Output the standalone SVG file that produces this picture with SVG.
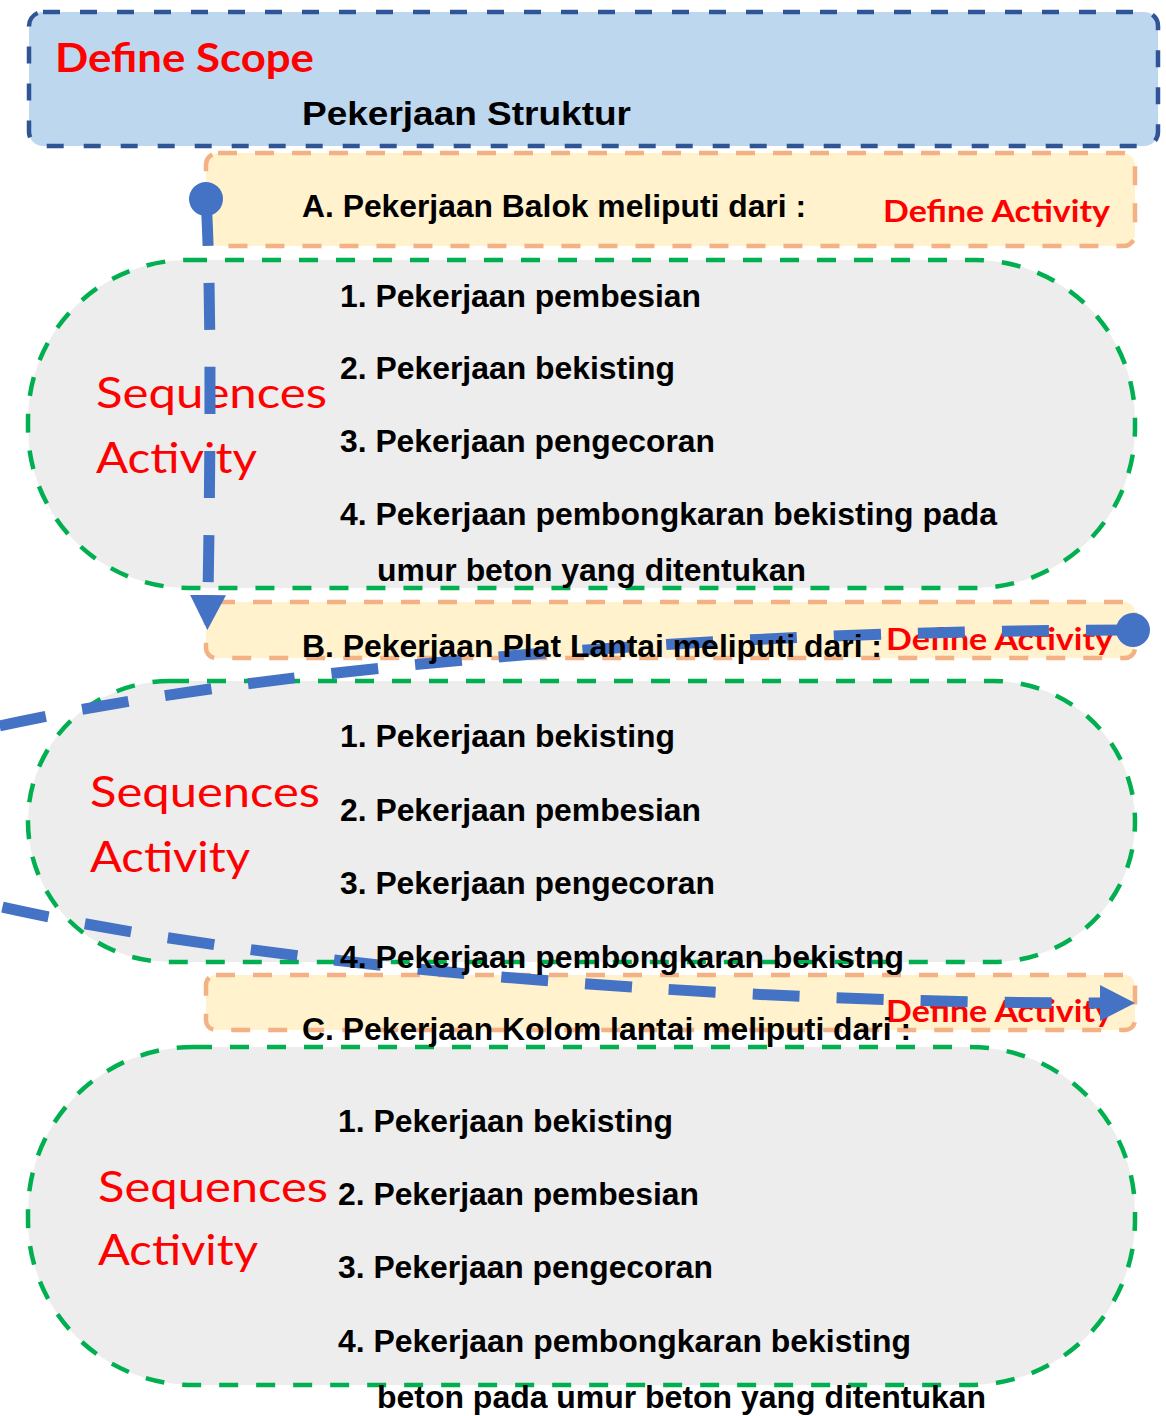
<svg xmlns="http://www.w3.org/2000/svg" width="1166" height="1416" viewBox="0 0 1166 1416">
  <defs>
    <style>
      .scope { fill: #BDD7EE; stroke: #2F5597; stroke-width: 4.5; stroke-dasharray: 17 20; }
      .act { fill: #FFF2CC; stroke: #F4B183; stroke-width: 4.5; stroke-dasharray: 19 18; }
      .seq { fill: #EDEDED; stroke: #00B050; stroke-width: 4.5; stroke-dasharray: 19 18; }
      .item { font-family: "Liberation Sans", Arial, sans-serif; font-weight: bold; font-size: 31px; fill: #000000; }
      .title { font-family: "Liberation Sans", Arial, sans-serif; font-weight: bold; font-size: 33px; fill: #000000; }
      .lbl { font-family: Lato, "Open Sans", sans-serif; fill: #FF0000; }
      .lbl-b { font-weight: bold; font-size: 31px; }
      .lbl-big { font-weight: bold; font-size: 40px; }
      .lbl-seq { font-weight: normal; font-size: 42px; }
      .flow { fill: none; stroke: #4472C4; stroke-width: 11; stroke-dasharray: 47 37; }
    </style>
    <marker id="arrow" markerUnits="userSpaceOnUse" markerWidth="36" markerHeight="36" viewBox="0 0 36 36" refX="0" refY="18" orient="auto">
      <path d="M0,0 L35,18 L0,36 Z" fill="#4472C4"/>
    </marker>
    <marker id="dot" markerUnits="userSpaceOnUse" markerWidth="36" markerHeight="36" viewBox="0 0 36 36" refX="18" refY="18" orient="auto">
      <circle cx="18" cy="18" r="17" fill="#4472C4"/>
    </marker>
  </defs>

  <rect x="0" y="0" width="1166" height="1416" fill="#FFFFFF"/>

  <!-- scope box -->
  <g id="scope">
    <rect class="scope" x="29" y="12" width="1129" height="134" rx="14"/>
    <text class="lbl lbl-big" x="55" y="72" textLength="259" lengthAdjust="spacingAndGlyphs">Define Scope</text>
    <text class="title" x="302" y="125" textLength="329" lengthAdjust="spacingAndGlyphs">Pekerjaan Struktur</text>
  </g>

  <!-- activity A: beams -->
  <g id="activity-a">
    <rect class="act" x="206" y="153" width="929" height="93" rx="12"/>
    <text class="lbl lbl-b" x="883" y="222" textLength="227" lengthAdjust="spacingAndGlyphs">Define Activity</text>
  </g>
  <g id="sequence-a">
    <rect class="seq" x="28" y="260" width="1107" height="328" rx="160" ry="160"/>
    <text class="lbl lbl-seq" x="96" y="408" textLength="231" lengthAdjust="spacingAndGlyphs">Sequences</text>
    <text class="lbl lbl-seq" x="96" y="473" textLength="161" lengthAdjust="spacingAndGlyphs">Activity</text>
  </g>

  <!-- activity B: floor slab -->
  <g id="activity-b">
    <rect class="act" x="206" y="602" width="929" height="56" rx="10"/>
    <text class="lbl lbl-b" x="886" y="650" textLength="227" lengthAdjust="spacingAndGlyphs">Define Activity</text>
  </g>
  <g id="sequence-b">
    <rect class="seq" x="28" y="681" width="1107" height="281" rx="142" ry="140"/>
    <text class="lbl lbl-seq" x="90" y="807" textLength="230" lengthAdjust="spacingAndGlyphs">Sequences</text>
    <text class="lbl lbl-seq" x="90" y="872" textLength="160" lengthAdjust="spacingAndGlyphs">Activity</text>
  </g>

  <!-- activity C: columns -->
  <g id="activity-c">
    <rect class="act" x="206" y="975" width="929" height="55" rx="10"/>
    <text class="lbl lbl-b" x="886" y="1022" textLength="227" lengthAdjust="spacingAndGlyphs">Define Activity</text>
  </g>
  <g id="sequence-c">
    <rect class="seq" x="28" y="1047" width="1107" height="338" rx="165" ry="165"/>
    <text class="lbl lbl-seq" x="98" y="1202" textLength="230" lengthAdjust="spacingAndGlyphs">Sequences</text>
    <text class="lbl lbl-seq" x="98" y="1265" textLength="160" lengthAdjust="spacingAndGlyphs">Activity</text>
  </g>

  <!-- flow connectors -->
  <g id="connectors">
    <path class="flow" d="M206,199 C212,300 210,480 208,595" marker-start="url(#dot)" marker-end="url(#arrow)"/>
    <path class="flow" d="M1133,630 C466,630 -200,723 -200,816 C-200,909 467,1003 1100,1003" marker-start="url(#dot)" marker-end="url(#arrow)"/>
  </g>

  <!-- work item lists -->
  <g id="items-a">
    <text class="item" x="302" y="217" textLength="504" lengthAdjust="spacingAndGlyphs">A. Pekerjaan Balok meliputi dari :</text>
    <text class="item" x="340" y="307" textLength="361" lengthAdjust="spacingAndGlyphs">1. Pekerjaan pembesian</text>
    <text class="item" x="340" y="379" textLength="335" lengthAdjust="spacingAndGlyphs">2. Pekerjaan bekisting</text>
    <text class="item" x="340" y="452" textLength="375" lengthAdjust="spacingAndGlyphs">3. Pekerjaan pengecoran</text>
    <text class="item" x="340" y="525" textLength="657" lengthAdjust="spacingAndGlyphs">4. Pekerjaan pembongkaran bekisting pada</text>
    <text class="item" x="377" y="581" textLength="429" lengthAdjust="spacingAndGlyphs">umur beton yang ditentukan</text>
  </g>
  <g id="items-b">
    <text class="item" x="302" y="657" textLength="580" lengthAdjust="spacingAndGlyphs">B. Pekerjaan Plat Lantai meliputi dari :</text>
    <text class="item" x="340" y="747" textLength="335" lengthAdjust="spacingAndGlyphs">1. Pekerjaan bekisting</text>
    <text class="item" x="340" y="821" textLength="361" lengthAdjust="spacingAndGlyphs">2. Pekerjaan pembesian</text>
    <text class="item" x="340" y="894" textLength="375" lengthAdjust="spacingAndGlyphs">3. Pekerjaan pengecoran</text>
    <text class="item" x="340" y="968" textLength="564" lengthAdjust="spacingAndGlyphs">4. Pekerjaan pembongkaran bekistng</text>
  </g>
  <g id="items-c">
    <text class="item" x="302" y="1040" textLength="609" lengthAdjust="spacingAndGlyphs">C. Pekerjaan Kolom lantai meliputi dari :</text>
    <text class="item" x="338" y="1132" textLength="335" lengthAdjust="spacingAndGlyphs">1. Pekerjaan bekisting</text>
    <text class="item" x="338" y="1205" textLength="361" lengthAdjust="spacingAndGlyphs">2. Pekerjaan pembesian</text>
    <text class="item" x="338" y="1278" textLength="375" lengthAdjust="spacingAndGlyphs">3. Pekerjaan pengecoran</text>
    <text class="item" x="338" y="1352" textLength="573" lengthAdjust="spacingAndGlyphs">4. Pekerjaan pembongkaran bekisting</text>
    <text class="item" x="377" y="1408" textLength="609" lengthAdjust="spacingAndGlyphs">beton pada umur beton yang ditentukan</text>
  </g>
</svg>
